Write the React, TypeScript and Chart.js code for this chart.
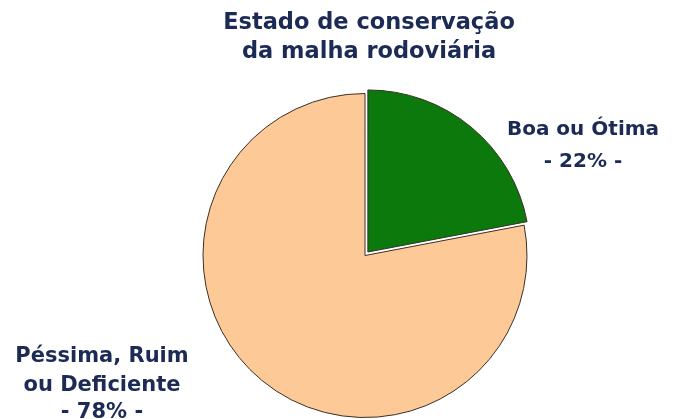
import React, { useEffect, useRef } from "react";
import { Chart, registerables } from "chart.js";

Chart.register(...registerables);

const titleLines = ["Estado de conservação", "da malha rodoviária"];
const categories = ["Boa ou Ótima", "Péssima, Ruim ou Deficiente"];
const categoryLines = [["Boa ou Ótima"], ["Péssima, Ruim", "ou Deficiente"]];
const values = [22, 78];
const colors = ["#0b790b", "#fdc997"];

const TEXT_COLOR = "#1c2b55";

const textPlugin = {
  id: "textPlugin",
  afterDraw(chart: any) {
    const ctx = chart.ctx as CanvasRenderingContext2D;
    ctx.save();
    ctx.fillStyle = TEXT_COLOR;
    ctx.textAlign = "center";
    ctx.textBaseline = "alphabetic";
    ctx.font = "bold 22.5px 'DejaVu Sans'";
    ctx.fillText(titleLines[0], 369, 29);
    ctx.fillText(titleLines[1], 369, 58);

    ctx.font = "bold 20px 'DejaVu Sans'";
    const rightLines = [...categoryLines[0], `- ${values[0]}% -`];
    const rb = [135, 167];
    rightLines.forEach((t, i) => ctx.fillText(t, 583, rb[i]));

    ctx.font = "bold 21px 'DejaVu Sans'";
    const leftLines = [...categoryLines[1], `- ${values[1]}% -`];
    const lb = [362, 391, 418];
    leftLines.forEach((t, i) => ctx.fillText(t, 102, lb[i]));
    ctx.restore();
  },
};

export default function App() {
  const ref = useRef<HTMLCanvasElement | null>(null);
  useEffect(() => {
    if (!ref.current) return;
    const chart = new Chart(ref.current, {
      type: "pie",
      data: {
        labels: categories,
        datasets: [
          {
            data: values,
            backgroundColor: colors,
            borderColor: "#3a3026",
            borderWidth: 1,
            offset: [18, 0],
            radius: 162,
          } as any,
        ],
      },
      options: {
        responsive: false,
        animation: false,
        layout: { padding: { left: 55, right: 0, top: 92, bottom: 0 } },
        plugins: {
          legend: { display: false },
          tooltip: { enabled: false },
          title: { display: false },
        },
      } as any,
      plugins: [textPlugin],
    });
    return () => chart.destroy();
  }, []);
  return (
    <div style={{ position: "fixed", left: 0, top: 0, width: 675, height: 419, background: "#fff" }}>
      <canvas ref={ref} width={675} height={419} style={{ display: "block" }} />
    </div>
  );
}
